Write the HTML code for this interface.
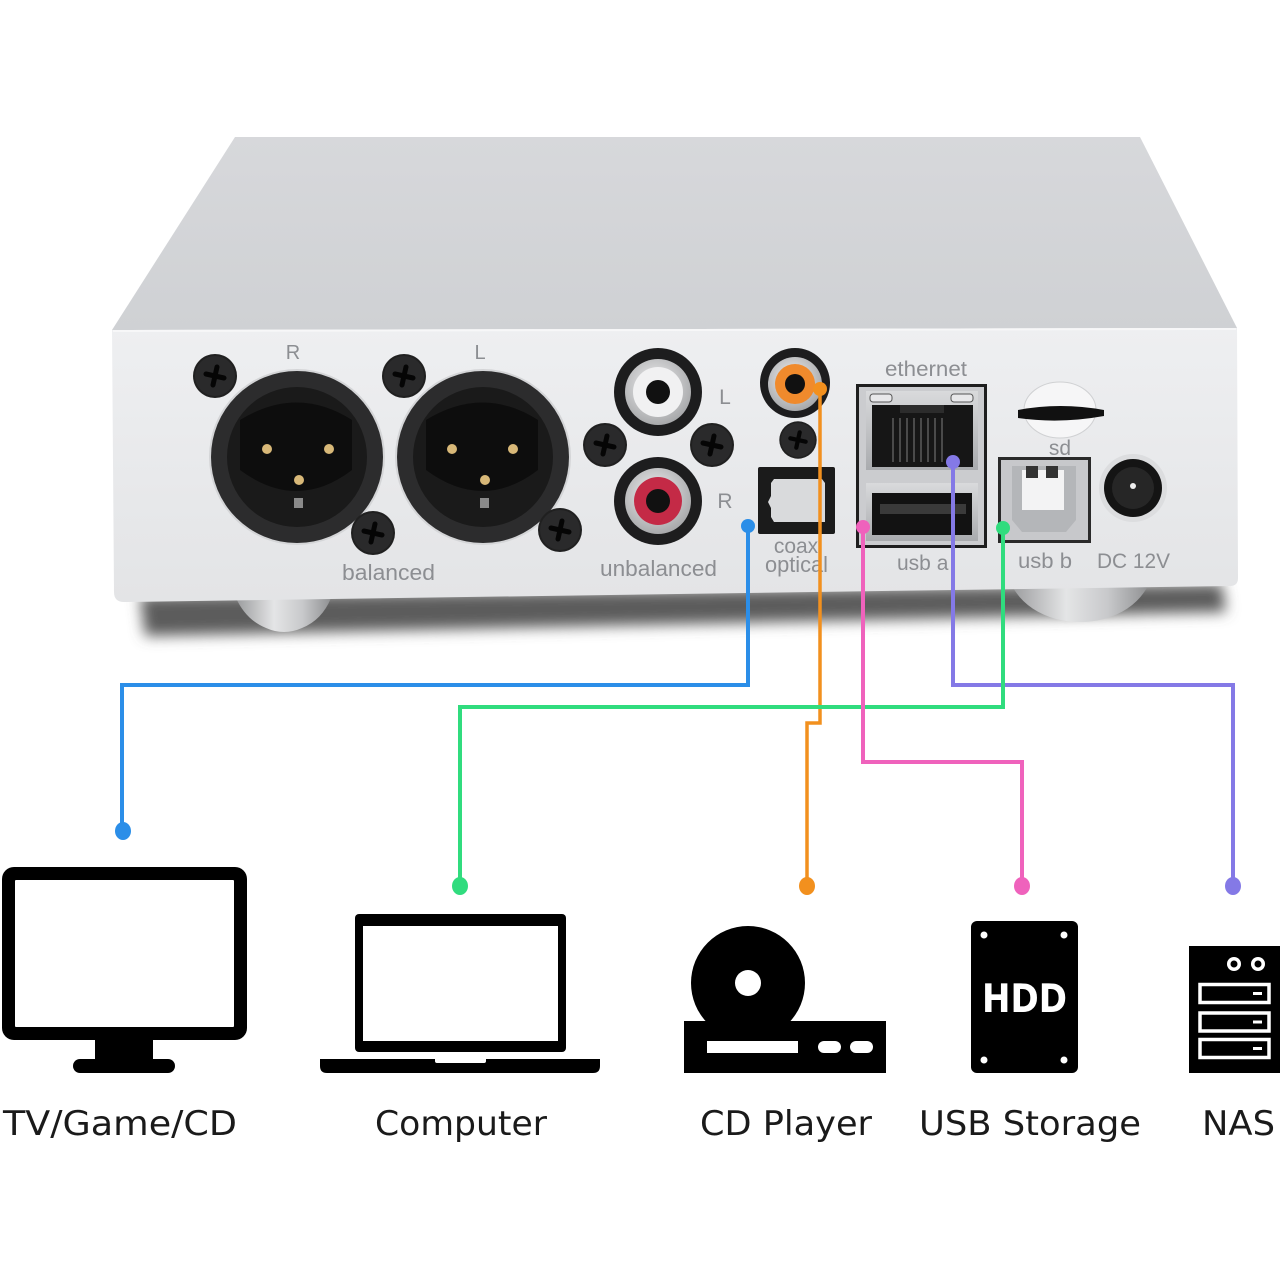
<!DOCTYPE html>
<html><head><meta charset="utf-8"><style>
html,body{margin:0;padding:0;background:#fff;}
svg{display:block;}
</style></head><body>
<svg width="1280" height="1280" viewBox="0 0 1280 1280" xmlns="http://www.w3.org/2000/svg">
<defs>
<linearGradient id="topg" x1="0" y1="0" x2="0" y2="1">
<stop offset="0" stop-color="#d7d8db"/><stop offset="1" stop-color="#cfd1d4"/>
</linearGradient>
<linearGradient id="frontg" x1="0" y1="0" x2="0" y2="1">
<stop offset="0" stop-color="#eeeff1"/><stop offset="1" stop-color="#e3e4e6"/>
</linearGradient>
<linearGradient id="footg" x1="0" y1="0" x2="1" y2="0">
<stop offset="0" stop-color="#9a9b9d"/><stop offset="0.4" stop-color="#e4e5e6"/><stop offset="0.7" stop-color="#c8c9cb"/><stop offset="1" stop-color="#8f9092"/>
</linearGradient>
<linearGradient id="metal" x1="0" y1="0" x2="0" y2="1">
<stop offset="0" stop-color="#d9dadc"/><stop offset="1" stop-color="#a9abae"/>
</linearGradient>
<radialGradient id="silver" cx="0.45" cy="0.4" r="0.6">
<stop offset="0" stop-color="#f2f2f3"/><stop offset="1" stop-color="#a8a9ab"/>
</radialGradient>
<filter id="blur" x="-10%" y="-100%" width="120%" height="300%"><feGaussianBlur stdDeviation="7"/></filter>
<g id="screw">
<circle r="22" fill="#202020"/>
<circle r="20" fill="#2a2a2b"/>
<path d="M-9,-2 L9,2 M-2,9 L2,-9" stroke="#050505" stroke-width="5" stroke-linecap="round"/>
</g>
</defs>

<rect width="1280" height="1280" fill="#fff"/>

<!-- shadow -->
<polygon points="140,596 1222,584 1226,612 145,636" fill="#5c5c5c" filter="url(#blur)"/>

<!-- feet -->
<path d="M236,598 L331,598 Q322,620 302,628 Q284,636 266,628 Q246,620 236,598 Z" fill="url(#footg)"/>
<path d="M1011,584 L1149,584 Q1136,610 1104,619 Q1080,625 1056,619 Q1024,610 1011,584 Z" fill="url(#footg)"/>

<!-- top face -->
<polygon points="235,137 1140,137 1237,328 112,330" fill="url(#topg)"/>
<!-- front face -->
<path d="M112,330 L1237,328 L1238,578 Q1238,586 1230,586 L124,602 Q114,602 114,592 Z" fill="url(#frontg)"/>
<line x1="113" y1="331" x2="1236" y2="329" stroke="#f7f7f8" stroke-width="2"/>

<!-- XLR R -->
<circle cx="297" cy="457" r="88" fill="#d4d5d7"/>
<circle cx="297" cy="457" r="86" fill="#2c2c2d"/>
<circle cx="297" cy="457" r="70" fill="#1a1a1a"/>
<path d="M240,420 Q297,385 352,420 L352,470 Q297,512 240,470 Z" fill="#0d0d0d"/>
<circle cx="267" cy="449" r="5" fill="#d8b878"/>
<circle cx="329" cy="449" r="5" fill="#d8b878"/>
<circle cx="299" cy="480" r="5" fill="#d8b878"/>
<rect x="294" y="498" width="9" height="10" fill="#8a8a8a"/>
<!-- XLR L -->
<circle cx="483" cy="457" r="88" fill="#d4d5d7"/>
<circle cx="483" cy="457" r="86" fill="#2c2c2d"/>
<circle cx="483" cy="457" r="70" fill="#1a1a1a"/>
<path d="M426,420 Q483,385 538,420 L538,470 Q483,512 426,470 Z" fill="#0d0d0d"/>
<circle cx="452" cy="449" r="5" fill="#d8b878"/>
<circle cx="513" cy="449" r="5" fill="#d8b878"/>
<circle cx="485" cy="480" r="5" fill="#d8b878"/>
<rect x="480" y="498" width="9" height="10" fill="#8a8a8a"/>

<use href="#screw" x="215" y="376"/>
<use href="#screw" x="373" y="533"/>
<use href="#screw" x="404" y="376"/>
<use href="#screw" x="560" y="530"/>

<!-- RCA unbalanced -->
<circle cx="658" cy="392" r="44" fill="#1d1d1e"/>
<circle cx="658" cy="392" r="33" fill="url(#silver)"/>
<circle cx="658" cy="392" r="25" fill="#f1f1f2"/>
<circle cx="658" cy="392" r="12" fill="#111"/>
<circle cx="658" cy="501" r="44" fill="#1d1d1e"/>
<circle cx="658" cy="501" r="33" fill="url(#silver)"/>
<circle cx="658" cy="501" r="24" fill="#c42a46"/>
<circle cx="658" cy="501" r="12" fill="#111"/>
<use href="#screw" x="605" y="445"/>
<use href="#screw" x="712" y="445"/>

<!-- coax -->
<circle cx="795" cy="383" r="35" fill="#1d1d1e"/>
<circle cx="795" cy="384" r="27" fill="url(#silver)"/>
<circle cx="795" cy="384" r="20" fill="#f08a2c"/>
<circle cx="795" cy="384" r="10" fill="#111"/>
<g transform="translate(798,440) scale(0.85)"><use href="#screw"/></g>

<!-- optical -->
<rect x="758" y="467" width="77" height="67" rx="2" fill="#1b1b1b"/>
<path d="M774,479 L822,479 L825,483 L825,522 L774,522 L771,517 L771,508 L768,502 L771,496 L771,483 Z" fill="#d9dadc"/>

<!-- ethernet / usb a -->
<rect x="857.5" y="385.5" width="128" height="161" fill="#cbcccf" stroke="#1e1e1e" stroke-width="3"/>
<rect x="866" y="391" width="112" height="79" fill="url(#metal)"/>
<rect x="870" y="394" width="22" height="8" rx="3" fill="#e8e8ea" stroke="#555" stroke-width="1"/>
<rect x="951" y="394" width="22" height="8" rx="3" fill="#e8e8ea" stroke="#555" stroke-width="1"/>
<rect x="872" y="405" width="101" height="62" fill="#161616"/>
<rect x="900" y="405" width="44" height="8" fill="#2c2c2c"/>
<g stroke="#4a4a4a" stroke-width="2">
<line x1="893" y1="418" x2="893" y2="462"/><line x1="900" y1="418" x2="900" y2="462"/><line x1="907" y1="418" x2="907" y2="462"/><line x1="914" y1="418" x2="914" y2="462"/><line x1="921" y1="418" x2="921" y2="462"/><line x1="928" y1="418" x2="928" y2="462"/><line x1="935" y1="418" x2="935" y2="462"/><line x1="942" y1="418" x2="942" y2="462"/>
</g>
<rect x="866" y="483" width="112" height="58" fill="url(#metal)"/>
<rect x="872" y="493" width="100" height="42" fill="#121212"/>
<rect x="880" y="504" width="86" height="10" fill="#3a3a3a"/>

<!-- sd -->
<ellipse cx="1060" cy="410" rx="36" ry="28" fill="#f6f6f7" stroke="#d0d1d3" stroke-width="1"/>
<path d="M1018,410 Q1060,402 1104,410 L1104,416 Q1060,424 1018,418 Z" fill="#111"/>

<!-- usb b -->
<rect x="999.5" y="458.5" width="90" height="83" fill="#c7c8cb" stroke="#2a2a2a" stroke-width="3"/>
<path d="M1012,466 L1076,466 L1076,520 L1066,532 L1022,532 L1012,520 Z" fill="#b4b6b9"/>
<rect x="1022" y="470" width="42" height="40" fill="#f3f3f4"/>
<rect x="1026" y="466" width="12" height="12" fill="#333"/>
<rect x="1046" y="466" width="12" height="12" fill="#333"/>

<!-- DC -->
<circle cx="1133" cy="488" r="34" fill="#dcdddf"/>
<circle cx="1133" cy="488" r="29" fill="#141414"/>
<circle cx="1133" cy="488" r="21" fill="#262626"/>
<circle cx="1133" cy="486" r="3" fill="#eee"/>

<!-- device labels -->
<g font-family="'Liberation Sans', Arial, sans-serif" fill="#8c8e92" font-size="21">
<text x="293" y="359" text-anchor="middle" font-size="20">R</text>
<text x="480" y="359" text-anchor="middle" font-size="20">L</text>
<text x="342" y="580" font-size="22" textLength="93" lengthAdjust="spacingAndGlyphs">balanced</text>
<text x="600" y="576" font-size="22" textLength="117" lengthAdjust="spacingAndGlyphs">unbalanced</text>
<text x="725" y="404" text-anchor="middle" font-size="21">L</text>
<text x="725" y="508" text-anchor="middle" font-size="21">R</text>
<text x="796" y="553" text-anchor="middle" font-size="21">coax</text>
<text x="765" y="572" font-size="22" textLength="63" lengthAdjust="spacingAndGlyphs">optical</text>
<text x="885" y="376" font-size="21" textLength="82" lengthAdjust="spacingAndGlyphs">ethernet</text>
<text x="897" y="570" font-size="21">usb a</text>
<text x="1060" y="455" text-anchor="middle" font-size="21">sd</text>
<text x="1018" y="568" font-size="21" textLength="54" lengthAdjust="spacingAndGlyphs">usb b</text>
<text x="1097" y="568" font-size="21" textLength="73" lengthAdjust="spacingAndGlyphs">DC 12V</text>
</g>

<!-- connectors -->
<g fill="none" stroke-width="4" stroke-linejoin="miter">
<path d="M748,526 V685 H122 V830" stroke="#2b8ee8"/>
<path d="M953,462 V685 H1233 V885" stroke="#8479e6"/>
<path d="M820,389 V723 H807 V885" stroke="#f2901e" stroke-width="3.5"/>
<path d="M1003,528 V707 H460 V885" stroke="#30dc7e"/>
<path d="M863,527 V762 H1022 V885" stroke="#ef62bc"/>
</g>
<circle cx="748" cy="526" r="7" fill="#2b8ee8"/>
<circle cx="820" cy="389" r="7" fill="#f2901e"/>
<circle cx="863" cy="527" r="7" fill="#ef62bc"/>
<circle cx="953" cy="462" r="7" fill="#8479e6"/>
<circle cx="1003" cy="528" r="7" fill="#30dc7e"/>
<ellipse cx="123" cy="831" rx="8" ry="9" fill="#2b8ee8"/>
<ellipse cx="460" cy="886" rx="8" ry="9" fill="#30dc7e"/>
<ellipse cx="807" cy="886" rx="8" ry="9" fill="#f2901e"/>
<ellipse cx="1022" cy="886" rx="8" ry="9" fill="#ef62bc"/>
<ellipse cx="1233" cy="886" rx="8" ry="9" fill="#8479e6"/>

<!-- TV icon -->
<rect x="2" y="867" width="245" height="173" rx="12" fill="#000"/>
<rect x="15" y="880" width="219" height="147" rx="1" fill="#fff"/>
<rect x="95" y="1038" width="58" height="24" fill="#000"/>
<rect x="73" y="1059" width="102" height="14" rx="7" fill="#000"/>

<!-- Laptop icon -->
<rect x="355" y="914" width="211" height="138" rx="4" fill="#000"/>
<rect x="363" y="926" width="195" height="115" fill="#fff"/>
<path d="M320,1059 H600 V1066 Q600,1073 593,1073 H327 Q320,1073 320,1066 Z" fill="#000"/>
<path d="M435,1059 H486 V1061 Q486,1063 484,1063 H437 Q435,1063 435,1061 Z" fill="#fff"/>

<!-- CD player icon -->
<circle cx="748" cy="983" r="57" fill="#000"/>
<rect x="684" y="1021" width="202" height="52" fill="#000"/>
<circle cx="748" cy="983" r="13" fill="#fff"/>
<rect x="707" y="1041" width="91" height="12" fill="#fff"/>
<rect x="818" y="1041" width="23" height="12" rx="6" fill="#fff"/>
<rect x="850" y="1041" width="23" height="12" rx="6" fill="#fff"/>

<!-- HDD icon -->
<rect x="971" y="921" width="107" height="152" rx="6" fill="#000"/>
<circle cx="984" cy="935" r="3.5" fill="#fff"/>
<circle cx="1064" cy="935" r="3.5" fill="#fff"/>
<circle cx="984" cy="1060" r="3.5" fill="#fff"/>
<circle cx="1064" cy="1060" r="3.5" fill="#fff"/>
<text x="982" y="1012" font-family="'DejaVu Sans', 'Liberation Sans', sans-serif" font-weight="bold" font-size="39" fill="#fff" textLength="85" lengthAdjust="spacingAndGlyphs">HDD</text>

<!-- NAS icon -->
<rect x="1189" y="946" width="91" height="127" fill="#000"/>
<circle cx="1234" cy="964" r="7" fill="#fff"/>
<circle cx="1234" cy="964" r="3.5" fill="#000"/>
<circle cx="1258" cy="964" r="7" fill="#fff"/>
<circle cx="1258" cy="964" r="3.5" fill="#000"/>
<g fill="none" stroke="#fff" stroke-width="3.5">
<rect x="1200" y="984.5" width="69" height="18"/>
<rect x="1200" y="1013" width="69" height="18"/>
<rect x="1200" y="1039.5" width="69" height="18"/>
</g>
<rect x="1253" y="992" width="9" height="3" fill="#fff"/>
<rect x="1253" y="1020.5" width="9" height="3" fill="#fff"/>
<rect x="1253" y="1047" width="9" height="3" fill="#fff"/>

<!-- bottom labels -->
<g font-family="'DejaVu Sans', 'Liberation Sans', sans-serif" font-size="34" fill="#1a1a1a">
<text x="3" y="1135" textLength="234" lengthAdjust="spacingAndGlyphs">TV/Game/CD</text>
<text x="375" y="1135" textLength="172" lengthAdjust="spacingAndGlyphs">Computer</text>
<text x="700" y="1135" textLength="172" lengthAdjust="spacingAndGlyphs">CD Player</text>
<text x="919" y="1135" textLength="222" lengthAdjust="spacingAndGlyphs">USB Storage</text>
<text x="1202" y="1135" textLength="73" lengthAdjust="spacingAndGlyphs">NAS</text>
</g>
</svg>
</body></html>
